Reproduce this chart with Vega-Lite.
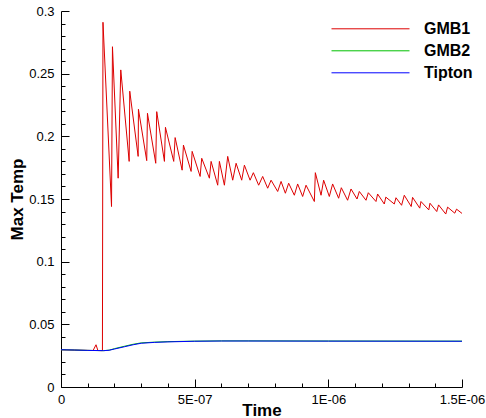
{
 "$schema": "https://vega.github.io/schema/vega-lite/v6.json",
 "width": 401,
 "height": 376,
 "autosize": {"type": "none"},
 "padding": {"left": 61, "top": 11, "right": 24, "bottom": 31},
 "config": {
  "view": {"stroke": null},
  "font": "Liberation Sans",
  "axis": {"grid": false, "domainColor": "black", "tickColor": "black", "labelColor": "black", "titleColor": "black", "domainWidth": 1, "tickWidth": 1}
 },
 "data": {"values": [
  {"s":"GMB1","t":0,"v":0.0297},
  {"s":"GMB1","t":0.6e-7,"v":0.0294},
  {"s":"GMB1","t":1.2e-7,"v":0.0291},
  {"s":"GMB1","t":1.31e-7,"v":0.0337},
  {"s":"GMB1","t":1.38e-7,"v":0.0291},
  {"s":"GMB1","t":1.55e-7,"v":0.029},
  {"s":"GMB1","t":1.57e-7,"v":0.291},
  {"s":"GMB1","t":1.89e-7,"v":0.144},
  {"s":"GMB1","t":1.925e-7,"v":0.2715},
  {"s":"GMB1","t":2.138e-7,"v":0.1666},
  {"s":"GMB1","t":2.236e-7,"v":0.253},
  {"s":"GMB1","t":2.55e-7,"v":0.18},
  {"s":"GMB1","t":2.572e-7,"v":0.236},
  {"s":"GMB1","t":2.886e-7,"v":0.184},
  {"s":"GMB1","t":2.897e-7,"v":0.2216},
  {"s":"GMB1","t":3.207e-7,"v":0.1806},
  {"s":"GMB1","t":3.234e-7,"v":0.2184},
  {"s":"GMB1","t":3.544e-7,"v":0.1785},
  {"s":"GMB1","t":3.581e-7,"v":0.2197},
  {"s":"GMB1","t":3.869e-7,"v":0.18},
  {"s":"GMB1","t":3.907e-7,"v":0.2072},
  {"s":"GMB1","t":4.217e-7,"v":0.18},
  {"s":"GMB1","t":4.269e-7,"v":0.199},
  {"s":"GMB1","t":4.531e-7,"v":0.173},
  {"s":"GMB1","t":4.58e-7,"v":0.193},
  {"s":"GMB1","t":4.867e-7,"v":0.172},
  {"s":"GMB1","t":4.905e-7,"v":0.188},
  {"s":"GMB1","t":5.204e-7,"v":0.168},
  {"s":"GMB1","t":5.264e-7,"v":0.1825},
  {"s":"GMB1","t":5.551e-7,"v":0.1666},
  {"s":"GMB1","t":5.615e-7,"v":0.18},
  {"s":"GMB1","t":5.862e-7,"v":0.161},
  {"s":"GMB1","t":5.925e-7,"v":0.18},
  {"s":"GMB1","t":6.112e-7,"v":0.161},
  {"s":"GMB1","t":6.236e-7,"v":0.184},
  {"s":"GMB1","t":6.423e-7,"v":0.165},
  {"s":"GMB1","t":6.55e-7,"v":0.1785},
  {"s":"GMB1","t":6.759e-7,"v":0.165},
  {"s":"GMB1","t":6.86e-7,"v":0.177},
  {"s":"GMB1","t":7.073e-7,"v":0.165},
  {"s":"GMB1","t":7.196e-7,"v":0.171},
  {"s":"GMB1","t":7.394e-7,"v":0.161},
  {"s":"GMB1","t":7.544e-7,"v":0.168},
  {"s":"GMB1","t":7.731e-7,"v":0.1586},
  {"s":"GMB1","t":7.858e-7,"v":0.165},
  {"s":"GMB1","t":8.105e-7,"v":0.156},
  {"s":"GMB1","t":8.232e-7,"v":0.164},
  {"s":"GMB1","t":8.393e-7,"v":0.1546},
  {"s":"GMB1","t":8.516e-7,"v":0.1626},
  {"s":"GMB1","t":8.729e-7,"v":0.153},
  {"s":"GMB1","t":8.852e-7,"v":0.162},
  {"s":"GMB1","t":9.039e-7,"v":0.152},
  {"s":"GMB1","t":9.166e-7,"v":0.161},
  {"s":"GMB1","t":9.477e-7,"v":0.148},
  {"s":"GMB1","t":9.514e-7,"v":0.171},
  {"s":"GMB1","t":9.727e-7,"v":0.153},
  {"s":"GMB1","t":9.824e-7,"v":0.165},
  {"s":"GMB1","t":1.0037e-6,"v":0.152},
  {"s":"GMB1","t":1.0161e-6,"v":0.162},
  {"s":"GMB1","t":1.0385e-6,"v":0.1506},
  {"s":"GMB1","t":1.0486e-6,"v":0.159},
  {"s":"GMB1","t":1.0721e-6,"v":0.149},
  {"s":"GMB1","t":1.0849e-6,"v":0.158},
  {"s":"GMB1","t":1.1073e-6,"v":0.15},
  {"s":"GMB1","t":1.1159e-6,"v":0.156},
  {"s":"GMB1","t":1.1409e-6,"v":0.149},
  {"s":"GMB1","t":1.1495e-6,"v":0.155},
  {"s":"GMB1","t":1.1783e-6,"v":0.148},
  {"s":"GMB1","t":1.1843e-6,"v":0.154},
  {"s":"GMB1","t":1.2093e-6,"v":0.146},
  {"s":"GMB1","t":1.215e-6,"v":0.1515},
  {"s":"GMB1","t":1.2467e-6,"v":0.146},
  {"s":"GMB1","t":1.2531e-6,"v":0.151},
  {"s":"GMB1","t":1.274e-6,"v":0.145},
  {"s":"GMB1","t":1.2841e-6,"v":0.153},
  {"s":"GMB1","t":1.31e-6,"v":0.144},
  {"s":"GMB1","t":1.3151e-6,"v":0.1513},
  {"s":"GMB1","t":1.342e-6,"v":0.1427},
  {"s":"GMB1","t":1.3465e-6,"v":0.148},
  {"s":"GMB1","t":1.3757e-6,"v":0.1413},
  {"s":"GMB1","t":1.3802e-6,"v":0.1466},
  {"s":"GMB1","t":1.4056e-6,"v":0.14},
  {"s":"GMB1","t":1.4123e-6,"v":0.1453},
  {"s":"GMB1","t":1.4393e-6,"v":0.138},
  {"s":"GMB1","t":1.446e-6,"v":0.1435},
  {"s":"GMB1","t":1.4729e-6,"v":0.1387},
  {"s":"GMB1","t":1.4796e-6,"v":0.1419},
  {"s":"GMB1","t":1.5e-6,"v":0.1385},
  {"s":"GMB2","t":0,"v":0.0297},
  {"s":"GMB2","t":0.5e-7,"v":0.0295},
  {"s":"GMB2","t":1.0e-7,"v":0.0292},
  {"s":"GMB2","t":1.6e-7,"v":0.029},
  {"s":"GMB2","t":1.8e-7,"v":0.0294},
  {"s":"GMB2","t":2.0e-7,"v":0.0306},
  {"s":"GMB2","t":2.37e-7,"v":0.0325},
  {"s":"GMB2","t":2.7e-7,"v":0.0341},
  {"s":"GMB2","t":3.0e-7,"v":0.0352},
  {"s":"GMB2","t":3.5e-7,"v":0.0358},
  {"s":"GMB2","t":4.0e-7,"v":0.0362},
  {"s":"GMB2","t":5.0e-7,"v":0.0366},
  {"s":"GMB2","t":6.0e-7,"v":0.0368},
  {"s":"GMB2","t":7.0e-7,"v":0.0368},
  {"s":"GMB2","t":1.0e-6,"v":0.0367},
  {"s":"GMB2","t":1.5e-6,"v":0.0366},
  {"s":"Tipton","t":0,"v":0.0297},
  {"s":"Tipton","t":0.5e-7,"v":0.0295},
  {"s":"Tipton","t":1.0e-7,"v":0.0292},
  {"s":"Tipton","t":1.6e-7,"v":0.029},
  {"s":"Tipton","t":1.8e-7,"v":0.0293},
  {"s":"Tipton","t":2.0e-7,"v":0.0303},
  {"s":"Tipton","t":2.37e-7,"v":0.0321},
  {"s":"Tipton","t":2.7e-7,"v":0.0337},
  {"s":"Tipton","t":3.0e-7,"v":0.0349},
  {"s":"Tipton","t":3.5e-7,"v":0.0356},
  {"s":"Tipton","t":4.0e-7,"v":0.036},
  {"s":"Tipton","t":5.0e-7,"v":0.0365},
  {"s":"Tipton","t":6.0e-7,"v":0.0367},
  {"s":"Tipton","t":7.0e-7,"v":0.0367},
  {"s":"Tipton","t":1.0e-6,"v":0.0366},
  {"s":"Tipton","t":1.5e-6,"v":0.0365}
 ]},
 "encoding": {
  "color": {
   "field": "s", "type": "nominal",
   "scale": {"domain": ["GMB1", "GMB2", "Tipton"], "range": ["#dd0000", "#00c000", "#0000ff"]},
   "legend": {
    "orient": "none", "legendX": 301, "legendY": 9.3, "title": null,
    "symbolType": "M-4.875,0H4.875", "symbolSize": 256, "symbolStrokeWidth": 1,
    "labelFont": "Liberation Sans", "labelFontSize": 16, "labelFontWeight": "bold",
    "labelColor": "black", "labelOffset": 45, "rowPadding": 5, "padding": 0
   }
  }
 },
 "layer": [
  {
   "transform": [{"filter": "datum.s === 'GMB1'"}],
   "mark": {"type": "line", "strokeWidth": 1},
   "encoding": {
    "x": {"field": "t", "type": "quantitative", "scale": {"domain": [0, 1.5e-6], "nice": false, "zero": false},
     "axis": {"orient": "bottom", "values": [1e-7, 2e-7, 3e-7, 4e-7, 6e-7, 7e-7, 8e-7, 9e-7, 1.1e-6, 1.2e-6, 1.3e-6, 1.4e-6],
      "labels": false, "domain": false, "tickSize": -4, "title": null}},
    "y": {"field": "v", "type": "quantitative", "scale": {"domain": [0, 0.3], "nice": false},
     "axis": {"orient": "left", "values": [0.01, 0.02, 0.03, 0.04, 0.06, 0.07, 0.08, 0.09, 0.11, 0.12, 0.13, 0.14, 0.16, 0.17, 0.18, 0.19, 0.21, 0.22, 0.23, 0.24, 0.26, 0.27, 0.28, 0.29],
      "labels": false, "domain": false, "tickSize": -4, "title": null}}
   }
  },
  {
   "transform": [{"filter": "datum.s !== 'GMB1'"}],
   "mark": {"type": "line", "strokeWidth": 1},
   "encoding": {
    "x": {"field": "t", "type": "quantitative",
     "axis": {"orient": "bottom", "values": [0, 5e-7, 1e-6, 1.5e-6], "tickSize": -8,
      "labelExpr": "datum.value < 1e-9 ? '0' : datum.value < 6e-7 ? '5E-07' : datum.value < 1.2e-6 ? '1E-06' : '1.5E-06'",
      "labelFontSize": 13, "labelPadding": 14, "labelFlush": false, "labelOverlap": false,
      "title": "Time", "titleFontSize": 17, "titleFontWeight": "bold", "titleY": 28, "titleBaseline": "alphabetic"}},
    "y": {"field": "v", "type": "quantitative",
     "axis": {"orient": "left", "values": [0, 0.05, 0.1, 0.15, 0.2, 0.25, 0.3], "tickSize": -8,
      "labelExpr": "format(datum.value, '~g')",
      "labelFontSize": 13, "labelPadding": 15, "labelFlush": false, "labelOverlap": false,
      "title": "Max Temp", "titleFontSize": 17, "titleFontWeight": "bold", "titleX": -39, "titleBaseline": "alphabetic"}}
   }
  }
 ],
 "resolve": {"axis": {"x": "independent", "y": "independent"}}
}
